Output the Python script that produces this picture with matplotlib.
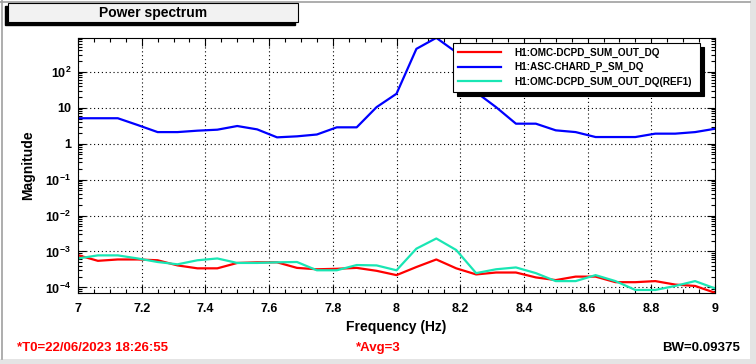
import numpy as np
import matplotlib.pyplot as plt
from matplotlib.patches import Rectangle
from matplotlib.ticker import LogLocator, NullFormatter, FuncFormatter, MultipleLocator

plt.rcParams['font.family'] = 'Liberation Sans'
plt.rcParams['font.weight'] = 'bold'
plt.rcParams['mathtext.fontset'] = 'custom'
plt.rcParams['mathtext.rm'] = 'Liberation Sans:bold'
plt.rcParams['mathtext.bf'] = 'Liberation Sans:bold'

# frequency bins (Hz)
freq = [7.0, 7.0625, 7.125, 7.1875, 7.25, 7.3125, 7.375, 7.4375, 7.5, 7.5625, 7.625,
        7.6875, 7.75, 7.8125, 7.875, 7.9375, 8.0, 8.0625, 8.125, 8.1875, 8.25,
        8.3125, 8.375, 8.4375, 8.5, 8.5625, 8.625, 8.6875, 8.75, 8.8125, 8.875,
        8.9375, 9.0]

omc = [7.9e-4, 5.5e-4, 6.0e-4, 6.0e-4, 5.7e-4, 4.1e-4, 3.4e-4, 3.4e-4, 4.8e-4, 5.0e-4, 5.0e-4,
       3.5e-4, 3.2e-4, 3.3e-4, 3.5e-4, 2.9e-4, 2.2e-4, 3.7e-4, 6.0e-4, 3.4e-4, 2.3e-4,
       2.6e-4, 2.6e-4, 1.9e-4, 1.6e-4, 2.0e-4, 2.0e-4, 1.4e-4, 1.4e-4, 1.5e-4, 1.2e-4,
       1.1e-4, 7.1e-5]

chard = [5.1, 5.1, 5.1, 3.3, 2.1, 2.1, 2.3, 2.45, 3.1, 2.5, 1.5,
         1.6, 1.8, 2.85, 2.85, 10.4, 24.5, 435, 880, 350, 27,
         10.4, 3.6, 3.6, 2.35, 2.1, 1.53, 1.53, 1.53, 1.9, 1.9,
         2.1, 2.6]

omc_ref = [6.4e-4, 7.8e-4, 7.8e-4, 6.4e-4, 5.1e-4, 4.4e-4, 5.7e-4, 6.4e-4, 4.8e-4, 4.8e-4, 5.0e-4,
           5.1e-4, 3.0e-4, 3.0e-4, 4.2e-4, 4.1e-4, 3.0e-4, 1.2e-3, 2.3e-3, 1.1e-3, 2.5e-4,
           3.2e-4, 3.6e-4, 2.5e-4, 1.5e-4, 1.5e-4, 2.2e-4, 1.5e-4, 8.5e-5, 8.5e-5, 1.1e-4,
           1.5e-4, 9.4e-5]

W, H = 756, 364


def px(x, y):
    return x / W, 1 - y / H


fig = plt.figure(figsize=(W / 100, H / 100), dpi=100)
fig.patch.set_facecolor('white')

# window frame
fig.patches.append(Rectangle(px(0, 364), 1, 5 / H, transform=fig.transFigure,
                             facecolor='#e4e4e4', edgecolor='none', zorder=0))
fig.patches.append(Rectangle(px(750, 364), 6 / W, 1, transform=fig.transFigure,
                             facecolor='#e4e4e4', edgecolor='none', zorder=0))
fig.add_artist(plt.Line2D([2 / W, 2 / W], [5 / H, 1], transform=fig.transFigure,
                          color='#a0a0a0', lw=1.2))
fig.add_artist(plt.Line2D([0, 750 / W], [1 - 1.5 / H, 1 - 1.5 / H], transform=fig.transFigure,
                          color='#a0a0a0', lw=1.2))

# title box with shadow
fig.patches.append(Rectangle(px(5, 25), 290 / W, 19 / H, transform=fig.transFigure,
                             facecolor='black', edgecolor='black', zorder=1))
fig.patches.append(Rectangle(px(8, 22), 290 / W, 19 / H, transform=fig.transFigure,
                             facecolor='#f2f2f2', edgecolor='black', lw=0.8, zorder=2))
fig.text(*px(153, 12.5), 'Power spectrum', ha='center', va='center', fontsize=10,
         fontweight='bold', zorder=3)

ax = fig.add_axes([78 / W, 1 - 293 / H, (715 - 78) / W, (293 - 37.5) / H])
ax.plot(freq, omc, color='#ff0000', lw=1.6, label='H1:OMC-DCPD_SUM_OUT_DQ')
ax.plot(freq, chard, color='#0000ff', lw=1.6, label='H1:ASC-CHARD_P_SM_DQ')
ax.plot(freq, omc_ref, color='#19e6b4', lw=1.6, label='H1:OMC-DCPD_SUM_OUT_DQ(REF1)')

ax.set_yscale('log')
ax.set_xlim(7, 9)
ax.set_ylim(7e-5, 900)

ax.xaxis.set_major_locator(MultipleLocator(0.2))
ax.xaxis.set_minor_locator(MultipleLocator(0.05))
ax.xaxis.set_major_formatter(FuncFormatter(lambda v, p: ('%g' % round(v, 2))))
ax.yaxis.set_major_locator(LogLocator(base=10, numticks=20))
ax.yaxis.set_minor_locator(LogLocator(base=10, subs=np.arange(2, 10), numticks=50))
ax.yaxis.set_minor_formatter(NullFormatter())


def yfmt(v, pos):
    e = int(round(np.log10(v)))
    if e == 0:
        return '1'
    if e == 1:
        return '10'
    return r'$\mathbf{10^{%d}}$' % e


ax.yaxis.set_major_formatter(FuncFormatter(yfmt))

ax.tick_params(which='both', direction='in', top=True, right=True, width=0.8, labelsize=9)
ax.tick_params(which='major', length=6)
ax.tick_params(which='minor', length=3)
ax.tick_params(axis='x', which='major', pad=7)
ax.tick_params(axis='y', which='major', pad=5)
for s in ax.spines.values():
    s.set_linewidth(0.8)

ax.grid(True, which='major', color='black', linestyle=(0, (1, 2.5)), linewidth=0.8)

ax.set_xlabel('Frequency (Hz)', fontsize=10, fontweight='bold', labelpad=4)
ax.set_ylabel('Magnitude', fontsize=10, fontweight='bold', labelpad=7)

leg = ax.legend(loc='lower left', bbox_to_anchor=(0.589, 0.787, 0.387, 0.184), mode='expand',
                borderaxespad=0, fancybox=False, edgecolor='black', framealpha=1,
                shadow={'ox': 3, 'oy': -3, 'color': 'black', 'alpha': 1},
                prop={'size': 7.2, 'weight': 'bold'}, handlelength=4.3, handletextpad=1.3,
                labelspacing=0.45, borderpad=0.5)
leg.get_frame().set_linewidth(0.8)

fig.text(*px(17, 348), '*T0=22/06/2023 18:26:55', color='#ff0000', fontsize=9.5,
         ha='left', va='center', fontweight='bold')
fig.text(*px(378, 348), '*Avg=3', color='#ff0000', fontsize=9.5,
         ha='center', va='center', fontweight='bold')
fig.text(*px(740, 348), 'BW=0.09375', color='black', fontsize=9.5,
         ha='right', va='center', fontweight='bold')

fig.savefig('out.png', dpi=100)
